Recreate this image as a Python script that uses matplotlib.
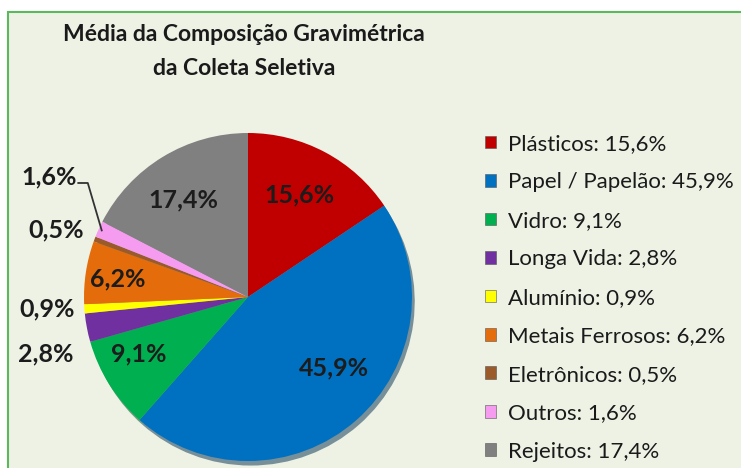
import numpy as np
import matplotlib
matplotlib.use("Agg")
import matplotlib.pyplot as plt
from matplotlib.patches import Rectangle, Patch

CATEGORIES = ["Plásticos", "Papel / Papelão", "Vidro", "Longa Vida", "Alumínio",
              "Metais Ferrosos", "Eletrônicos", "Outros", "Rejeitos"]
VALUES = [15.6, 45.9, 9.1, 2.8, 0.9, 6.2, 0.5, 1.6, 17.4]
COLORS = ["#c00000", "#0070c0", "#00b050", "#7030a0", "#ffff00",
          "#e46c0a", "#9a5a2a", "#f59cf0", "#808080"]
TITLE = "Média da Composição Gravimétrica\nda Coleta Seletiva"

# label placement: distance from centre (radius units) and angle nudge in degrees
LABEL_DIST = [0.70, 0.68, 0.75, 1.28, 1.23, 0.80, 1.24, 1.42, 0.71]
LABEL_NUDGE = [1.3, 9.0, -4.8, 4.9, -0.7, 0.7, 1.4, -6.7, 2.3]


def fmt(v):
    return f"{v:.1f}".replace(".", ",") + "%"


plt.rcParams["font.family"] = ["Lato", "DejaVu Sans"]
W, H = 741, 468
fig = plt.figure(figsize=(W / 100, H / 100), dpi=100, facecolor="white")

# light green panel with green border (left and top edges visible)
fig.patches.append(Rectangle((8 / W, -0.05), 1.1, 1.05 - 12 / H, transform=fig.transFigure,
                             facecolor="#eef2e5", edgecolor="#5cb85c", linewidth=1.5,
                             zorder=-5))

cx, cy, rpx = 248, 297, 164
half = 170
ax = fig.add_axes([(cx - half) / W, (H - cy - half) / H, 2 * half / W, 2 * half / H])
ax.set_zorder(2)

wedges, _ = ax.pie(VALUES, colors=COLORS, startangle=90, counterclock=False, radius=1.0,
                   wedgeprops=dict(linewidth=0),
                   shadow=dict(ox=0.012, oy=-0.02, shade=0.6))
ax.set_xlim(-half / rpx, half / rpx)
ax.set_ylim(-half / rpx, half / rpx)
ax.set_aspect("equal")
ax.axis("off")

for w, v, d, nudge in zip(wedges, VALUES, LABEL_DIST, LABEL_NUDGE):
    mid = (w.theta1 + w.theta2) / 2
    ang = np.deg2rad(mid + nudge)
    x, y = d * np.cos(ang), d * np.sin(ang)
    ax.text(x, y, fmt(v), ha="center", va="center", fontsize=18, fontweight="bold",
            color="#1c1c1c", clip_on=False)

# leader line for the "Outros" label
i = CATEGORIES.index("Outros")
w = wedges[i]
mid = np.deg2rad((w.theta1 + w.theta2) / 2)
ang = np.deg2rad((w.theta1 + w.theta2) / 2 + LABEL_NUDGE[i])
lx, ly = LABEL_DIST[i] * np.cos(ang), LABEL_DIST[i] * np.sin(ang)
ex, ey = 0.98 * np.cos(mid), 0.98 * np.sin(mid)
ax.plot([lx + 0.18, ex - 0.085, ex], [ly - 0.04, ly - 0.04, ey], color="#333333", lw=1.3,
        clip_on=False)

fig.text(244 / W, 1 - 24 / H, TITLE, ha="center", va="top", fontsize=16.5,
         fontweight="bold", color="#1a1a1a", linespacing=1.75)

handles = [Patch(facecolor=c, edgecolor="#555555", linewidth=0.4) for c in COLORS]
labels = [f"{c}: {fmt(v)}" for c, v in zip(CATEGORIES, VALUES)]
fig.legend(handles, labels, loc="upper left", bbox_to_anchor=(485 / W, 1 - 134 / H),
           frameon=False, fontsize=16, labelspacing=0.83, handlelength=0.5,
           handleheight=0.5, handletextpad=0.55, borderpad=0, borderaxespad=0,
           labelcolor="#1a1a1a")

fig.savefig("out.png", dpi=100, facecolor=fig.get_facecolor())
